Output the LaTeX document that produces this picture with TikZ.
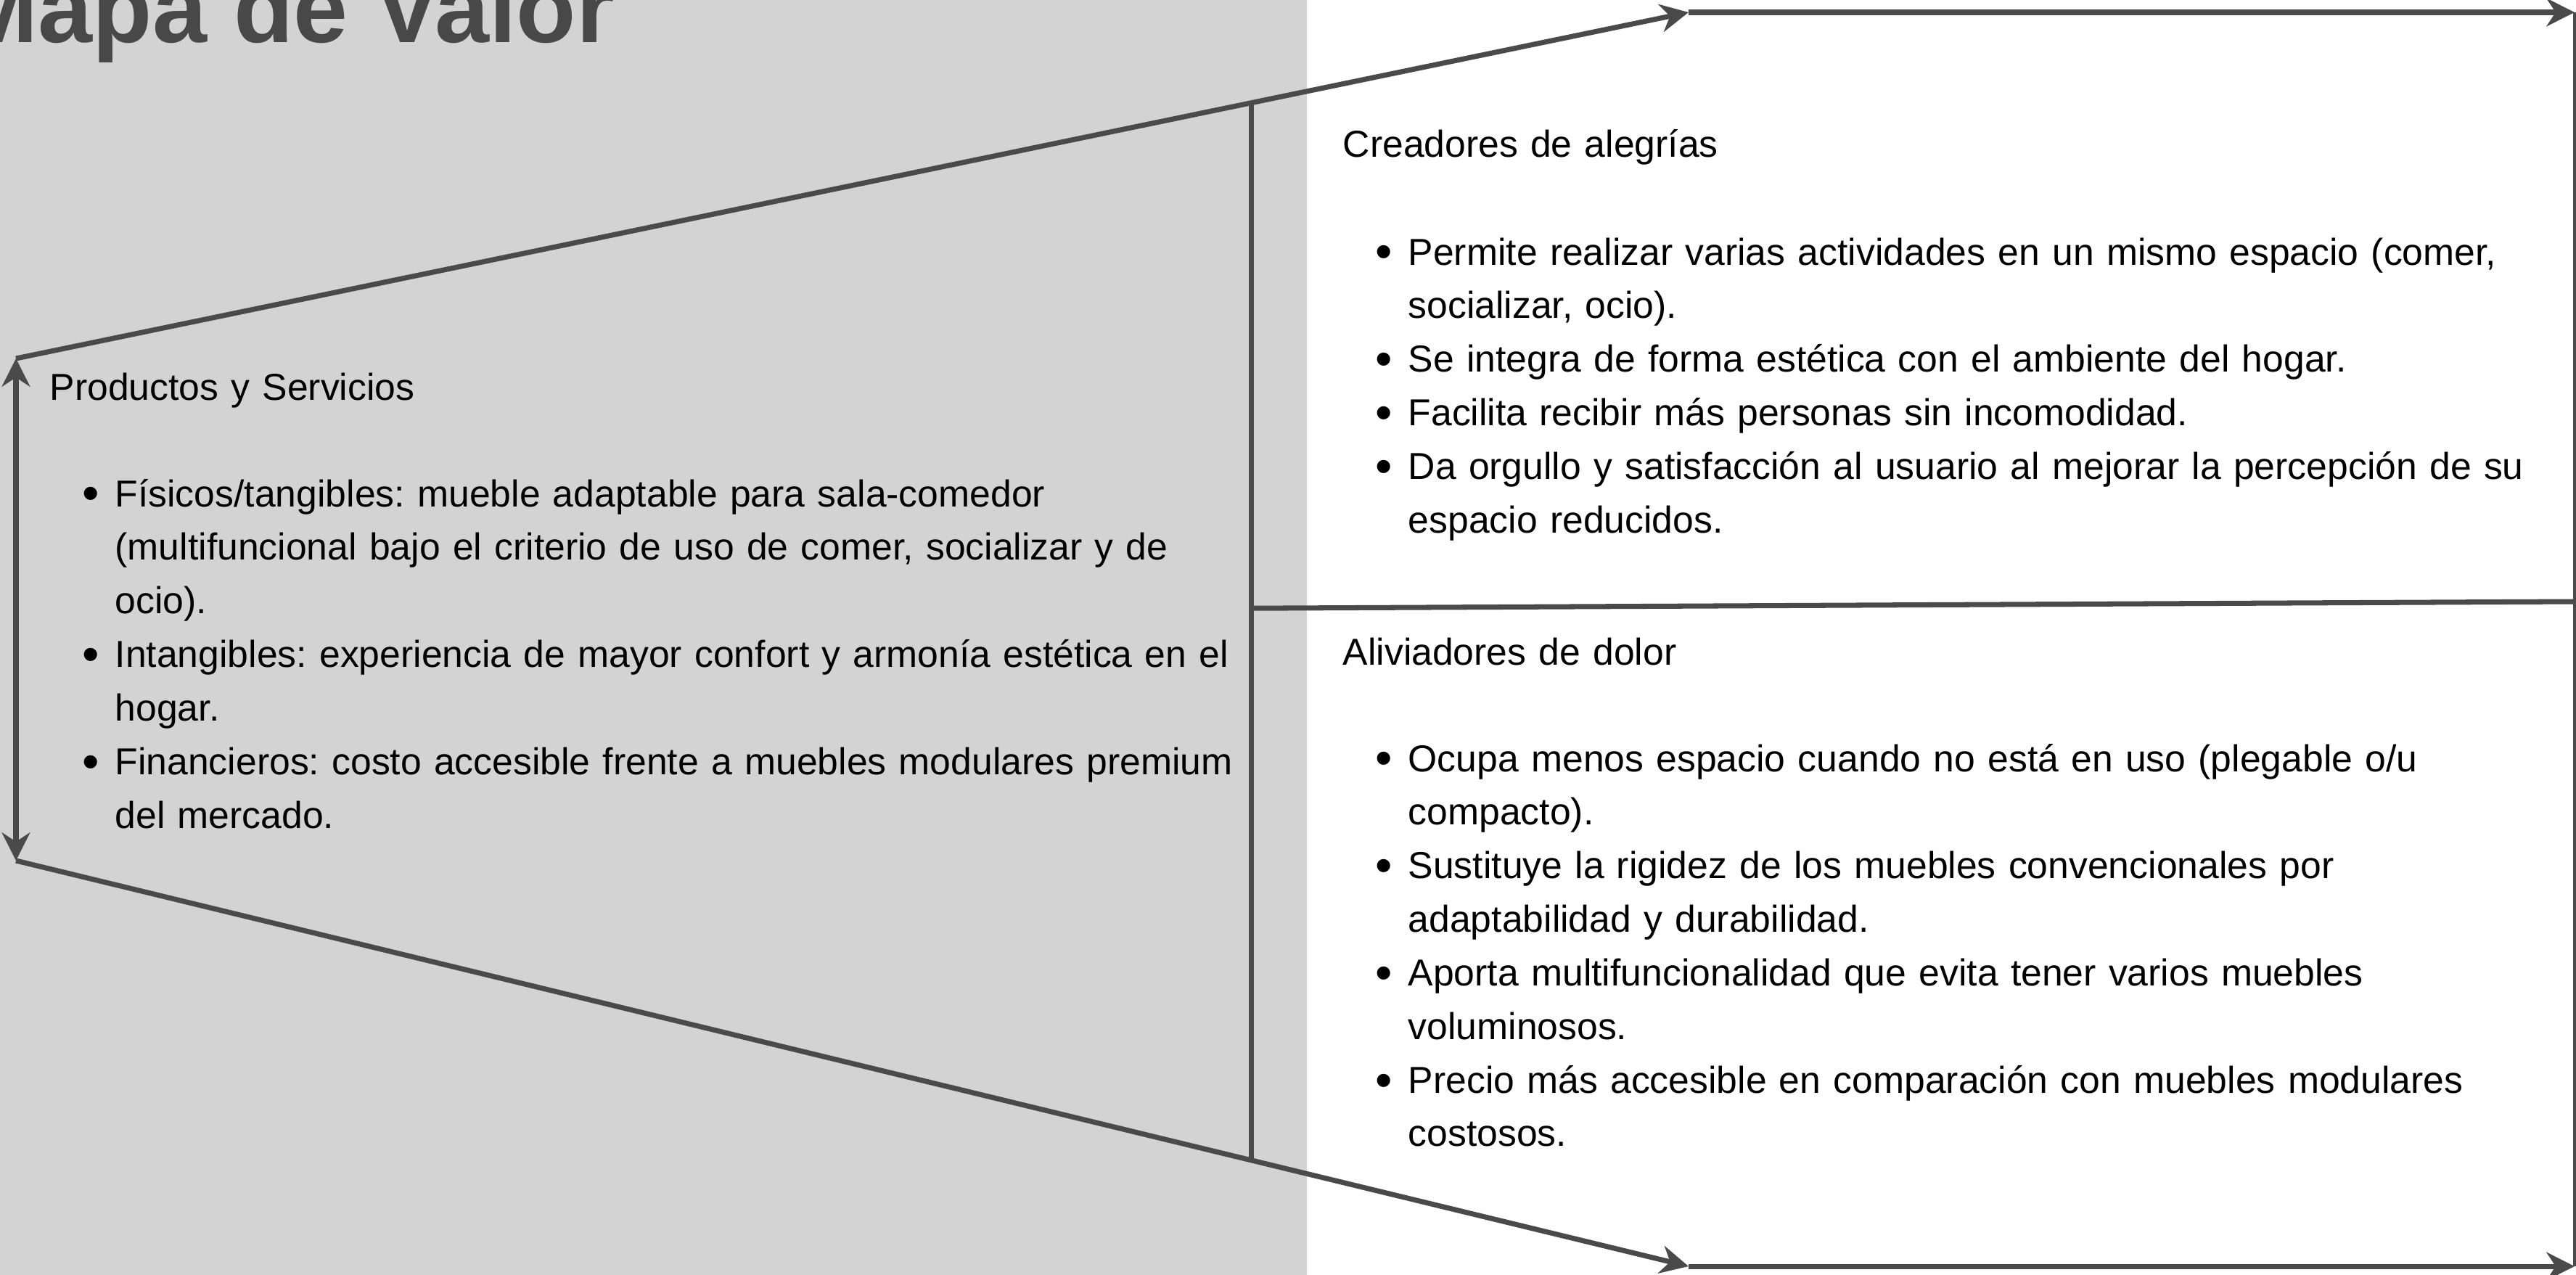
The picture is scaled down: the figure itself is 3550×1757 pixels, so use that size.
\documentclass[tikz,border=0pt]{standalone}
\usepackage{fontspec}
\setmainfont{Liberation Sans}
\usetikzlibrary{arrows.meta,calc}

\definecolor{fondo}{HTML}{D3D3D3}
\definecolor{trazo}{HTML}{4A4A4A}
\definecolor{titulo}{HTML}{484848}
\newcommand\vineta{\leavevmode\llap{\raisebox{-1.4pt}{\fontsize{19}{19}\selectfont\textbullet}\hskip 6.1pt}}
\frenchspacing

\begin{document}
\begin{tikzpicture}[x=0.01cm,y=-0.01cm,
  linea/.style={draw=trazo, line width=2pt},
  punta/.style={-{Stealth[length=11pt,width=11pt]}},
  texto/.style={anchor=base west, inner sep=0pt, align=left, text width=17cm,
    font=\fontsize{14.7}{21}\selectfont\frenchspacing}]
\useasboundingbox (0,0) rectangle (3550,1757);
\fill[fondo] (0,0) rectangle (1801,1757);

\coordinate (A) at (22,494);
\coordinate (B) at (2327,17);
\coordinate (C) at (3548,17);
\coordinate (E) at (22,1186);
\coordinate (F) at (2327,1745);
\coordinate (G) at (3548,1745);
\coordinate (H) at ($(A)!0.7388!(B)$);
\coordinate (I) at ($(E)!0.7388!(F)$);
\coordinate (J) at ($(H)!0.478!(I)$);
\coordinate (K) at (3548,829);

\draw [linea, punta] (A) -- (B);
\draw [linea, punta] (B) -- (C);
\draw [linea, punta] (E) -- (F);
\draw [linea, punta] (F) -- (G);
\draw [linea, {Stealth[length=11pt,width=11pt]}-{Stealth[length=11pt,width=11pt]}] (A) -- (E);
\draw [trazo, line width=1pt] (C) -- (G);
\draw [linea] (H) -- (I);
\draw [linea] (J) -- (K);

\node [anchor=base west, inner sep=0pt, text=titulo, font=\fontsize{38.3}{40}\selectfont\bfseries] (mapa) at (-60,58) {Mapa de Valor};

\node [texto] (ps) at (68,551) {Productos y Servicios};
\node [texto] (psl) at (158,698) {\vineta Físicos/tangibles: mueble adaptable para sala-comedor\\(multifuncional bajo el criterio de uso de comer, socializar y de\\ocio).\\\vineta Intangibles: experiencia de mayor confort y armonía estética en el\\hogar.\\\vineta Financieros: costo accesible frente a muebles modulares premium\\del mercado.};

\node [texto] (ca) at (1850,216) {Creadores de alegrías};
\node [texto] (cal) at (1940,365) {\vineta Permite realizar varias actividades en un mismo espacio (comer,\\socializar, ocio).\\\vineta Se integra de forma estética con el ambiente del hogar.\\\vineta Facilita recibir más personas sin incomodidad.\\\vineta Da orgullo y satisfacción al usuario al mejorar la percepción de su\\espacio reducidos.};

\node [texto] (ad) at (1850,916) {Aliviadores de dolor};
\node [texto] (adl) at (1940,1063) {\vineta Ocupa menos espacio cuando no está en uso (plegable o/u\\compacto).\\\vineta Sustituye la rigidez de los muebles convencionales por\\adaptabilidad y durabilidad.\\\vineta Aporta multifuncionalidad que evita tener varios muebles\\voluminosos.\\\vineta Precio más accesible en comparación con muebles modulares\\costosos.};
\end{tikzpicture}
\end{document}
